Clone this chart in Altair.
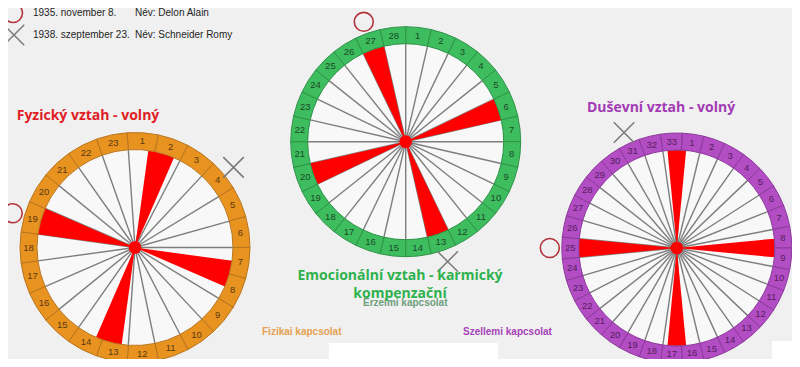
import math
import altair as alt
import pandas as pd

# ---------------- data ----------------
wheel_ids = ["fyz", "emo", "dus"]
wheel_titles = ["Fyzický vztah - volný", "Emocionální vztah - karmický", "Duševní vztah - volný"]
center_x = [135.0, 405.7, 676.8]
center_y = [247.5, 141.7, 248.0]
segments = [23, 28, 33]
start_offset = [-0.25, 0.0, 0.25]        # rotation of segment 1 (in segment widths)
ring_colors = ["#E8921F", "#3EBD5E", "#B24DC3"]
divider_colors = ["#B9761F", "#2E9348", "#8C3A9C"]
label_colors = ["#5A3A12", "#1C4A29", "#56205F"]
delon_segment = [19, 27, 25]             # circle marker (Delon Alain)
romy_segment = [4, 13, 31]               # X marker (Schneider Romy)
wedge_turns = [0, 90, 180, 270]

legend_dates = ["1935. november 8.", "1938. szeptember 23."]
legend_names = ["Név: Delon Alain", "Név: Schneider Romy"]

R_OUT, R_IN, R_LABEL, R_MARK = 115.0, 98.0, 106.5, 127.0

# ---------------- build tables ----------------
def polar(cx, cy, r, deg):
    a = math.radians(deg)
    return cx + r * math.sin(a), cy - r * math.cos(a)

ring_rows, label_rows, spoke_rows, wedge_rows = [], [], [], []
disk_rows, dot_rows, circ_rows, x_rows = [], [], [], []
for i in range(3):
    n = segments[i]
    w = 360.0 / n
    off = start_offset[i]
    cx, cy = center_x[i], center_y[i]
    disk_rows.append(dict(x=cx, y=cy, a0=0, a1=360, r0=0, r1=R_IN))
    dot_rows.append(dict(x=cx, y=cy))
    for k in range(1, n + 1):
        a0 = (k - 1 + off) * w
        a1 = (k + off) * w
        ring_rows.append(dict(x=cx, y=cy, a0=a0, a1=a1, r0=R_IN, r1=R_OUT,
                              fill=ring_colors[i], stroke=divider_colors[i]))
        lx, ly = polar(cx, cy, R_LABEL, (k - 0.5 + off) * w)
        label_rows.append(dict(x=lx, y=ly, t=str(k), c=label_colors[i]))
        ex, ey = polar(cx, cy, R_IN, a0)
        spoke_rows.append(dict(x=cx, y=cy, x2=ex, y2=ey))
    dc = (delon_segment[i] - 0.5 + off) * w
    for t in wedge_turns:
        wedge_rows.append(dict(x=cx, y=cy, a0=dc + t - w / 2, a1=dc + t + w / 2, r0=0, r1=R_IN))
    mx, my = polar(cx, cy, R_MARK, dc)
    circ_rows.append(dict(x=mx, y=my))
    rc = (romy_segment[i] - 0.5 + off) * w
    mx, my = polar(cx, cy, R_MARK, rc)
    x_rows.append(dict(x=mx, y=my))

# legend markers
circ_rows.append(dict(x=13, y=13))
x_rows.append(dict(x=14, y=35))

xs = alt.Scale(domain=[8, 792], nice=False, zero=False)
ys = alt.Scale(domain=[8, 359], nice=False, zero=False, reverse=True)
ts = alt.Scale(domain=[0, 360], range=[0, 2 * math.pi], nice=False, zero=False)
rs = alt.Scale(type="linear", domain=[0, 115], range=[0, 115], nice=False, zero=True)

X = alt.X("x:Q", scale=xs, axis=None)
Y = alt.Y("y:Q", scale=ys, axis=None)


def arcs(df, **mark):
    return alt.Chart(df).mark_arc(**mark).encode(
        x=X, y=Y,
        theta=alt.Theta("a0:Q", scale=ts, stack=False),
        theta2=alt.Theta2("a1:Q"),
        radius=alt.Radius("r1:Q", scale=rs),
        radius2=alt.Radius2("r0:Q"),
    )


rects = pd.DataFrame({"x": [329, 772], "x2": [498, 800], "y": [343, 341], "y2": [367, 367]})
white_rects = alt.Chart(rects).mark_rect(color="white").encode(
    x=X, x2="x2:Q", y=Y, y2="y2:Q")

disk = arcs(pd.DataFrame(disk_rows), color="#F8F8F8")
spokes = alt.Chart(pd.DataFrame(spoke_rows)).mark_rule(color="#7E7E7E", strokeWidth=1.4).encode(
    x=X, y=Y, x2="x2:Q", y2="y2:Q")
wedges = arcs(pd.DataFrame(wedge_rows), color="#FF0000")
ring = arcs(pd.DataFrame(ring_rows), strokeWidth=1).encode(
    fill=alt.Fill("fill:N", scale=None), stroke=alt.Stroke("stroke:N", scale=None))
labels = alt.Chart(pd.DataFrame(label_rows)).mark_text(
    font="Liberation Sans", fontSize=9.5, baseline="middle", align="center").encode(
    x=X, y=Y, text="t:N", color=alt.Color("c:N", scale=None))
dots = alt.Chart(pd.DataFrame(dot_rows)).mark_point(
    shape="circle", filled=True, color="#FF0000", size=160, opacity=1).encode(x=X, y=Y)
circles = alt.Chart(pd.DataFrame(circ_rows)).mark_point(
    shape="circle", filled=False, color="#B3343A", size=360, strokeWidth=1.6, opacity=1).encode(x=X, y=Y)
crosses = alt.Chart(pd.DataFrame(x_rows)).mark_point(
    shape="M -1 -1 L 1 1 M -1 1 L 1 -1", filled=False, color="#7A7A7A", size=420,
    strokeWidth=1.5, opacity=1).encode(x=X, y=Y)

# legend text
leg = pd.DataFrame({
    "x": [33, 33, 135, 135], "y": [13, 35, 13, 35],
    "t": [legend_dates[0], legend_dates[1], legend_names[0], legend_names[1]]})
legend_text = alt.Chart(leg).mark_text(
    font="Liberation Sans", fontSize=10, align="left", baseline="middle", color="#1E1E1E").encode(
    x=X, y=Y, text="t:N")

# wheel titles
titles = pd.DataFrame({
    "x": [88, 400, 661, 400],
    "y": [116, 276, 108, 294],
    "t": [wheel_titles[0], wheel_titles[1], wheel_titles[2], "kompenzační"],
    "c": ["#E11D25", "#2EB24E", "#A33AB5", "#2EB24E"]})
title_text = alt.Chart(titles).mark_text(
    font="Open Sans", fontSize=14, fontWeight="bold", align="center", baseline="middle").encode(
    x=X, y=Y, text="t:N", color=alt.Color("c:N", scale=None))

# small relation labels
small = pd.DataFrame({
    "x": [262, 463, 363],
    "y": [332, 332, 303],
    "t": ["Fizikai kapcsolat", "Szellemi kapcsolat", "Érzelmi kapcsolat"],
    "c": ["#E4A150", "#A744B8", "#6E9E7C"]})
small_text = alt.Chart(small).mark_text(
    font="Liberation Sans", fontSize=10, fontWeight="bold", align="left", baseline="middle").encode(
    x=X, y=Y, text="t:N", color=alt.Color("c:N", scale=None))

chart = alt.layer(
    white_rects, disk, spokes, wedges, ring, labels, dots, circles, crosses,
    legend_text, small_text, title_text,
).properties(
    width=784, height=351,
    autosize=alt.AutoSizeParams(type="none"),
    padding=0,
    background="#F0F0F0",
).configure_view(strokeWidth=0)

chart.save("out.html", embed_options={"renderer": "svg", "actions": False})
